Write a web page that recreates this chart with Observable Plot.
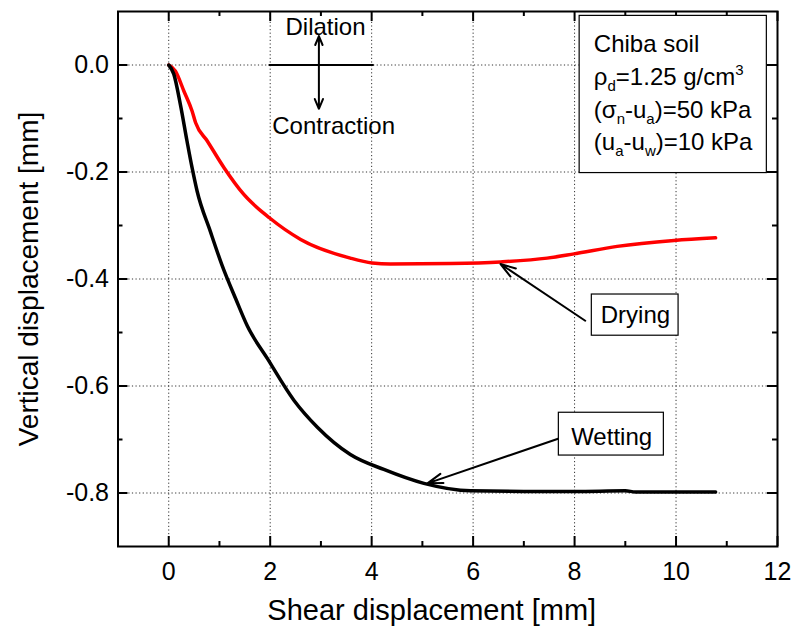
<!DOCTYPE html>
<html><head><meta charset="utf-8">
<script src="https://cdn.jsdelivr.net/npm/d3@7"></script>
<script src="https://cdn.jsdelivr.net/npm/@observablehq/plot@0.6"></script>
<style>html,body{margin:0;padding:0;background:#fff;}</style>
</head><body><div id="chart"></div>
<script>
// Wetting (black) curve
const wettingX = [0, 0.10, 0.23, 0.36, 0.46, 0.56, 0.82, 1.05, 1.32, 1.55, 1.94, 2.47, 2.93, 3.58, 4.24, 5.03, 5.95, 7.0, 8.0, 9.0, 9.2, 10.0, 10.78];
const wettingY = [0, -0.017, -0.074, -0.142, -0.192, -0.236, -0.311, -0.374, -0.437, -0.488, -0.548, -0.627, -0.677, -0.728, -0.756, -0.782, -0.796, -0.797, -0.797, -0.796, -0.798, -0.798, -0.798];
// Drying (red) curve
const dryingX = [0, 0.13, 0.30, 0.46, 0.53, 0.76, 1.09, 1.48, 1.99, 2.60, 3.58, 4.01, 4.37, 5.56, 6.54, 7.46, 7.99, 8.84, 9.96, 10.78];
const dryingY = [0, -0.011, -0.049, -0.086, -0.108, -0.142, -0.192, -0.242, -0.286, -0.326, -0.361, -0.370, -0.372, -0.371, -0.368, -0.361, -0.353, -0.339, -0.328, -0.323];

const xMajorTicks = [0, 2, 4, 6, 8, 10, 12];
const xMinorTicks = [1, 3, 5, 7, 9, 11];
const yMajorTicks = [0, -0.2, -0.4, -0.6, -0.8];
const yMinorTicks = [-0.1, -0.3, -0.5, -0.7];
const xGridLines = [0, 2, 4, 6, 8, 10];
const yGridLines = [0, -0.2, -0.4, -0.6, -0.8];

const xLabel = "Shear displacement [mm]";
const yLabel = "Vertical displacement [mm]";

// Legend lines: segments [text, kind]
const legendLines = [
  [["Chiba soil", ""]],
  [["ρ", ""], ["d", "sub"], ["=1.25 g/cm", ""], ["3", "sup"]],
  [["(σ", ""], ["n", "sub"], ["-u", ""], ["a", "sub"], [")=50 kPa", ""]],
  [["(u", ""], ["a", "sub"], ["-u", ""], ["w", "sub"], [")=10 kPa", ""]]
];
const legendLineY = [0.0243, -0.0375, -0.0993, -0.159];
const legendTextX = 8.38;
const legendBox = [{x1: 8.10, x2: 11.79, y1: 0.0918, y2: -0.202}];

// Annotation labels
const labelBoxes = [
  {x1: 8.34, x2: 10.05, y1: -0.429, y2: -0.506},
  {x1: 7.69, x2: 9.76, y1: -0.650, y2: -0.730}
];
const labelTexts = [
  {x: 9.20, y: -0.483, text: "Drying"},
  {x: 8.73, y: -0.710, text: "Wetting"}
];
const pointerArrows = [
  {x1: 8.21, y1: -0.478, x2: 6.54, y2: -0.372},
  {x1: 7.69, y1: -0.698, x2: 5.10, y2: -0.782}
];
// Dilation / contraction cross
const crossLine = [{x1: 1.97, x2: 4.04, y1: 0, y2: 0}];
const crossArrows = [
  {x1: 2.96, y1: 0, x2: 2.96, y2: 0.054},
  {x1: 2.96, y1: 0, x2: 2.96, y2: -0.082}
];
const crossTexts = [
  {x: 3.09, y: 0.057, text: "Dilation"},
  {x: 3.25, y: -0.129, text: "Contraction"}
];

const wetting = wettingX.map((x, i) => ({x, y: wettingY[i]}));
const drying = dryingX.map((x, i) => ({x, y: dryingY[i]}));
const legendData = legendLines.map((segs, i) => ({text: segs.map(s => s[0]).join(""), y: legendLineY[i], segs}));

const W = 797, H = 630, ML = 117.5, MR = 20, MT = 11, MB = 84;
const FW = W - ML - MR, FH = H - MT - MB;
const gridStyle = {stroke: "#333", strokeOpacity: 1, strokeWidth: 1, strokeDasharray: "1.2,2.4"};
const tk = {stroke: "black", strokeWidth: 2};

const chart = Plot.plot({
  width: W,
  height: H,
  marginLeft: ML,
  marginRight: MR,
  marginTop: MT,
  marginBottom: MB,
  x: {domain: [-1, 12]},
  y: {domain: [-0.9, 0.1]},
  style: {fontFamily: "'Liberation Sans', Arial, sans-serif", background: "white", color: "black"},
  marks: [
    Plot.gridX(xGridLines, gridStyle),
    Plot.gridY(yGridLines, gridStyle),
    Plot.line(drying, {x: "x", y: "y", stroke: "#ff0000", strokeWidth: 3.5, curve: "monotone-x"}),
    Plot.line(wetting, {x: "x", y: "y", stroke: "black", strokeWidth: 3.5, curve: "monotone-x"}),
    // tick labels
    Plot.axisX({anchor: "bottom", ticks: xMajorTicks, tickSize: 0, tickPadding: 16, fontSize: 25, label: null, tickFormat: d => String(d)}),
    Plot.axisY({anchor: "left", ticks: yMajorTicks, tickSize: 0, tickPadding: 9, fontSize: 25, label: null, tickFormat: d => d.toFixed(1)}),
    Plot.frame({stroke: "black", strokeWidth: 2}),
    // inward ticks on all four sides
    Plot.tickX(xMajorTicks, {x: d => d, insetTop: FH - 10, ...tk}),
    Plot.tickX(xMinorTicks, {x: d => d, insetTop: FH - 5, ...tk}),
    Plot.tickX(xMajorTicks, {x: d => d, insetBottom: FH - 10, ...tk}),
    Plot.tickX(xMinorTicks, {x: d => d, insetBottom: FH - 5, ...tk}),
    Plot.tickY(yMajorTicks, {y: d => d, insetRight: FW - 10, ...tk}),
    Plot.tickY(yMinorTicks, {y: d => d, insetRight: FW - 5, ...tk}),
    Plot.tickY(yMajorTicks, {y: d => d, insetLeft: FW - 10, ...tk}),
    Plot.tickY(yMinorTicks, {y: d => d, insetLeft: FW - 5, ...tk}),
    // axis titles
    Plot.text([xLabel], {frameAnchor: "bottom", lineAnchor: "bottom", textAnchor: "middle", dy: 73, dx: -16, fontSize: 29, fill: "black"}),
    Plot.text([yLabel], {frameAnchor: "left", rotate: -90, textAnchor: "middle", lineAnchor: "middle", dx: -89, fontSize: 28, fill: "black"}),
    // dilation/contraction cross
    Plot.link(crossLine, {x1: "x1", x2: "x2", y1: "y1", y2: "y2", stroke: "black", strokeWidth: 2}),
    Plot.arrow(crossArrows, {x1: "x1", y1: "y1", x2: "x2", y2: "y2", stroke: "black", strokeWidth: 2, headLength: 8, headAngle: 45}),
    Plot.text(crossTexts, {x: "x", y: "y", text: "text", fontSize: 24, lineAnchor: "bottom", fill: "black"}),
    // pointers + labels
    Plot.arrow(pointerArrows, {x1: "x1", y1: "y1", x2: "x2", y2: "y2", stroke: "black", strokeWidth: 2, headLength: 12, headAngle: 35}),
    Plot.rect(labelBoxes, {x1: "x1", x2: "x2", y1: "y1", y2: "y2", fill: "white", stroke: "black", strokeWidth: 1.2}),
    Plot.text(labelTexts, {x: "x", y: "y", text: "text", fontSize: 24, lineAnchor: "bottom", fill: "black"}),
    // legend box
    Plot.rect(legendBox, {x1: "x1", x2: "x2", y1: "y1", y2: "y2", fill: "white", stroke: "black", strokeWidth: 1.2}),
    Plot.text(legendData, {x: legendTextX, y: "y", text: "text", fontSize: 24, textAnchor: "start", lineAnchor: "bottom", fill: "black"})
  ]
});

document.getElementById("chart").appendChild(chart);

// Rich text for subscripts/superscripts in the legend
const byText = new Map(legendData.map(d => [d.text, d.segs]));
d3.select(chart).selectAll("text").each(function() {
  const segs = byText.get(this.textContent);
  if (!segs || segs.length < 2) return;
  const sel = d3.select(this);
  sel.text(null);
  let shift = 0;
  for (const [t, kind] of segs) {
    const target = kind === "sub" ? 6 : kind === "sup" ? -10 : 0;
    const ts = sel.append("tspan").text(t).attr("dy", target - shift);
    if (kind) ts.attr("font-size", 15);
    shift = target;
  }
});
</script>
</body></html>
